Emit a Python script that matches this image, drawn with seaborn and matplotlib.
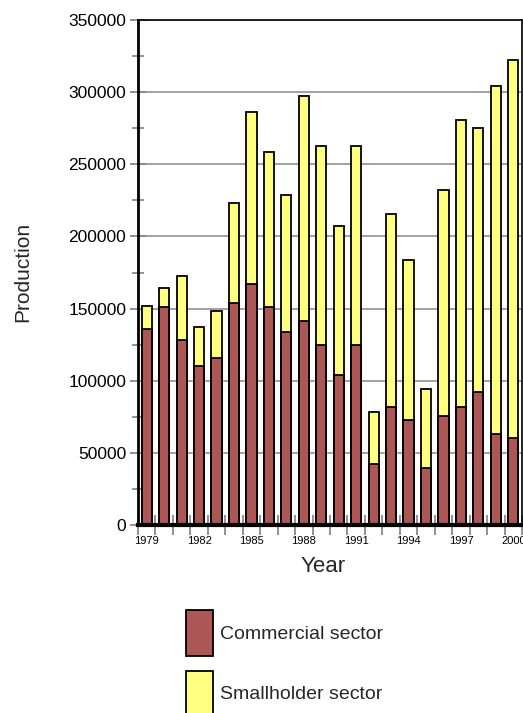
import numpy as np
import pandas as pd
import matplotlib
matplotlib.use("Agg")
import matplotlib.pyplot as plt
from matplotlib.patches import Patch
from matplotlib.ticker import MultipleLocator, FixedLocator
import seaborn as sns

# data
years = list(range(1979, 2001))
commercial = [136000, 151000, 128000, 110000, 115500, 154000, 167000, 151000,
              133500, 141500, 124500, 104000, 125000, 42000, 82000, 72500,
              39500, 75500, 82000, 92000, 63000, 60000]
smallholder = [16000, 13000, 44500, 27500, 33000, 69500, 119000, 107500,
               95500, 155500, 138000, 103000, 137500, 36000, 133500, 111000,
               55000, 156500, 198500, 183000, 241000, 262000]

BROWN = "#ad5656"
YELLOW = "#ffff80"
TICK_GREY = "#8a8a8a"

sns.set_style("white")
plt.rcParams["font.family"] = ["Liberation Sans", "DejaVu Sans"]

df = pd.DataFrame({
    "Year": [str(y) for y in years],
    "Commercial": commercial,
    "Smallholder": smallholder,
})
df["Total"] = df["Commercial"] + df["Smallholder"]

W, H = 523, 713
fig = plt.figure(figsize=(W / 100, H / 100), dpi=100)
ax = fig.add_axes([138 / W, 1 - 525 / H, (522 - 138) / W, (525 - 20) / H])
ax.set_axisbelow(True)

# stacked bars: total first (yellow), commercial drawn over it (brown)
sns.barplot(data=df, x="Year", y="Total", color=YELLOW, saturation=1,
            edgecolor="black", linewidth=1.3, width=0.58, ax=ax)
sns.barplot(data=df, x="Year", y="Commercial", color=BROWN, saturation=1,
            edgecolor="black", linewidth=1.3, width=0.58, ax=ax)

ax.set_xlim(-0.5, len(years) - 0.5)
ax.set_ylim(0, 350000)

# y axis
ax.yaxis.set_major_locator(MultipleLocator(50000))
ax.yaxis.set_minor_locator(MultipleLocator(25000))
ax.yaxis.grid(True, which="major", color="#9a9a9a", linewidth=1.3)
ax.tick_params(axis="y", which="major", left=True, direction="inout",
               length=11, width=1.3, color=TICK_GREY, labelsize=12.5,
               labelcolor="black", pad=3)
ax.tick_params(axis="y", which="minor", left=True, direction="inout",
               length=8, width=1.3, color=TICK_GREY)

# x axis: labels every third year, tick marks on category boundaries
idx = list(range(0, len(years), 3))
ax.xaxis.set_major_locator(FixedLocator(idx))
ax.set_xticklabels([str(years[i]) for i in idx])
ax.xaxis.set_minor_locator(FixedLocator(np.arange(-0.5, len(years), 1.0)))
ax.tick_params(axis="x", which="major", bottom=True, length=0, labelsize=8,
               labelcolor="black", pad=8)
ax.tick_params(axis="x", which="minor", bottom=True, direction="inout",
               length=14, width=1.3, color=TICK_GREY)

ax.set_xlabel("")
ax.set_ylabel("")
for side in ["top", "right"]:
    ax.spines[side].set_linewidth(1.2)
    ax.spines[side].set_color("black")
ax.spines["left"].set_linewidth(2)
ax.spines["left"].set_color("black")
ax.spines["bottom"].set_linewidth(3)
ax.spines["bottom"].set_color("black")

fig.text(323 / W, 1 - 572 / H, "Year", fontsize=16, ha="center", va="baseline")
fig.text(23 / W, 1 - 272 / H, "Production", fontsize=15, rotation=90,
         ha="center", va="center")

handles = [
    Patch(facecolor=BROWN, edgecolor="black", linewidth=1.3, label="Commercial sector"),
    Patch(facecolor=YELLOW, edgecolor="black", linewidth=1.3, label="Smallholder sector"),
]
fig.legend(handles=handles, loc="upper left",
           bbox_to_anchor=(186 / W, 1 - 610 / H), frameon=False,
           fontsize=14, handlelength=1.39, handleheight=3.26,
           labelspacing=0.77, handletextpad=0.37, borderpad=0,
           borderaxespad=0)

fig.savefig("out.png", dpi=100)
